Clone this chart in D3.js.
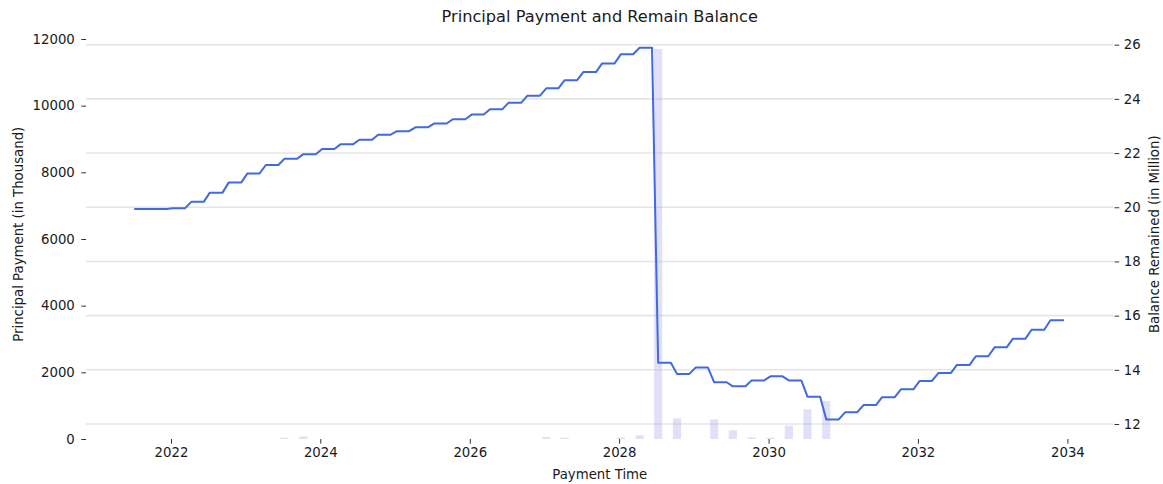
<!DOCTYPE html>
<html>
<head>
<meta charset="utf-8">
<script src="https://cdn.jsdelivr.net/npm/d3@7"></script>
<style>
  html, body { margin: 0; padding: 0; background: #fff; }
  svg { display: block; font-family: "DejaVu Sans", sans-serif; }
</style>
</head>
<body>
<svg id="chart" width="1163" height="484"></svg>
<script>
// ---- DATA ----
// Monthly payment dates (line series)
const paymentDates = [
  "2021-07-10","2021-08-10","2021-09-10","2021-10-10","2021-11-10","2021-12-10",
  "2022-01-10","2022-02-10","2022-03-10","2022-04-10","2022-05-10","2022-06-10","2022-07-10","2022-08-10","2022-09-10","2022-10-10","2022-11-10","2022-12-10",
  "2023-01-10","2023-02-10","2023-03-10","2023-04-10","2023-05-10","2023-06-10","2023-07-10","2023-08-10","2023-09-10","2023-10-10","2023-11-10","2023-12-10",
  "2024-01-10","2024-02-10","2024-03-10","2024-04-10","2024-05-10","2024-06-10","2024-07-10","2024-08-10","2024-09-10","2024-10-10","2024-11-10","2024-12-10",
  "2025-01-10","2025-02-10","2025-03-10","2025-04-10","2025-05-10","2025-06-10","2025-07-10","2025-08-10","2025-09-10","2025-10-10","2025-11-10","2025-12-10",
  "2026-01-10","2026-02-10","2026-03-10","2026-04-10","2026-05-10","2026-06-10","2026-07-10","2026-08-10","2026-09-10","2026-10-10","2026-11-10","2026-12-10",
  "2027-01-10","2027-02-10","2027-03-10","2027-04-10","2027-05-10","2027-06-10","2027-07-10","2027-08-10","2027-09-10","2027-10-10","2027-11-10","2027-12-10",
  "2028-01-10","2028-02-10","2028-03-10","2028-04-10","2028-05-10","2028-06-10","2028-07-10","2028-08-10","2028-09-10","2028-10-10","2028-11-10","2028-12-10",
  "2029-01-10","2029-02-10","2029-03-10","2029-04-10","2029-05-10","2029-06-10","2029-07-10","2029-08-10","2029-09-10","2029-10-10","2029-11-10","2029-12-10",
  "2030-01-10","2030-02-10","2030-03-10","2030-04-10","2030-05-10","2030-06-10","2030-07-10","2030-08-10","2030-09-10","2030-10-10","2030-11-10","2030-12-10",
  "2031-01-10","2031-02-10","2031-03-10","2031-04-10","2031-05-10","2031-06-10","2031-07-10","2031-08-10","2031-09-10","2031-10-10","2031-11-10","2031-12-10",
  "2032-01-10","2032-02-10","2032-03-10","2032-04-10","2032-05-10","2032-06-10","2032-07-10","2032-08-10","2032-09-10","2032-10-10","2032-11-10","2032-12-10",
  "2033-01-10","2033-02-10","2033-03-10","2033-04-10","2033-05-10","2033-06-10","2033-07-10","2033-08-10","2033-09-10","2033-10-10","2033-11-10","2033-12-10"
];
// Balance remained (in million), one per payment date
const balanceRemained = [
  19.94,19.94,19.94,19.94,19.94,19.94,
  19.96,19.96,19.96,20.20,20.20,20.20,20.54,20.54,20.54,20.91,20.91,20.91,
  21.25,21.25,21.25,21.56,21.56,21.56,21.79,21.79,21.79,21.96,21.96,21.96,
  22.15,22.15,22.15,22.33,22.33,22.33,22.49,22.49,22.49,22.68,22.68,22.68,
  22.81,22.81,22.81,22.95,22.95,22.95,23.09,23.09,23.09,23.25,23.25,23.25,
  23.42,23.42,23.42,23.62,23.62,23.62,23.86,23.86,23.86,24.12,24.12,24.12,
  24.39,24.39,24.39,24.69,24.69,24.69,24.99,24.99,24.99,25.31,25.31,25.31,
  25.65,25.65,25.65,25.89,25.89,25.89,14.26,14.26,14.26,13.85,13.85,13.85,
  14.09,14.09,14.09,13.54,13.54,13.54,13.39,13.39,13.39,13.61,13.61,13.61,
  13.76,13.76,13.76,13.61,13.61,13.61,13.01,13.01,13.01,12.17,12.17,12.17,
  12.43,12.43,12.43,12.70,12.70,12.70,12.99,12.99,12.99,13.28,13.28,13.28,
  13.59,13.59,13.59,13.88,13.88,13.88,14.18,14.18,14.18,14.50,14.50,14.50,
  14.83,14.83,14.83,15.15,15.15,15.15,15.48,15.48,15.48,15.83,15.83,15.83
];
// Principal payments (in thousand), quarterly dates with non-zero payments
const principalDates = [
  "2023-07-10","2023-10-10","2027-01-10","2027-04-10","2028-01-10","2028-04-10",
  "2028-07-10","2028-10-10","2029-04-10","2029-07-10","2029-10-10","2030-01-10",
  "2030-04-10","2030-07-10","2030-10-10"
];
const principalPayment = [
  40, 70, 60, 40, 50, 110,
  11700, 620, 590, 260, 50, 40,
  400, 890, 1140
];
const leftTicks = [0, 2000, 4000, 6000, 8000, 10000, 12000];
const rightTicks = [12, 14, 16, 18, 20, 22, 24, 26];
const xTickYears = ["2022", "2024", "2026", "2028", "2030", "2032", "2034"];

// ---- LAYOUT ----
const plot = { left: 86, right: 1113.5, top: 29.5, bottom: 439 };
const parse = d3.timeParse("%Y-%m-%d");
const parseYear = d3.timeParse("%Y");

const svg = d3.select("#chart");

const x = d3.scaleTime()
  .domain([parseYear("2022"), parseYear("2034")])
  .range([171, 1067.4]);
const yL = d3.scaleLinear().domain([0, 12000]).range([439, 39]);
const yR = d3.scaleLinear().domain([12, 26]).range([424, 44.7]);

const textColor = "#1a1a1a";
const fontSize = 13.3;

// ---- BARS (principal payment, left axis) ----
const halfWidthDays = 20;
const bars = principalDates.map((d, i) => ({ date: parse(d), value: principalPayment[i] }));
svg.append("g").selectAll("rect").data(bars).join("rect")
  .attr("x", d => x(d3.timeDay.offset(d.date, -halfWidthDays)))
  .attr("width", d => x(d3.timeDay.offset(d.date, halfWidthDays)) - x(d3.timeDay.offset(d.date, -halfWidthDays)))
  .attr("y", d => yL(d.value))
  .attr("height", d => yL(0) - yL(d.value))
  .attr("fill", "#6464dc")
  .attr("fill-opacity", 0.2);

// ---- GRID (from right axis) ----
svg.append("g").selectAll("line").data(rightTicks).join("line")
  .attr("x1", plot.left).attr("x2", plot.right)
  .attr("y1", d => yR(d)).attr("y2", d => yR(d))
  .attr("stroke", "#b4b4b4")
  .attr("stroke-opacity", 0.35)
  .attr("stroke-width", 1.6);

// ---- LINE (balance, right axis) ----
const pts = paymentDates.map((d, i) => ({ date: parse(d), value: balanceRemained[i] }));
svg.append("path")
  .datum(pts)
  .attr("fill", "none")
  .attr("stroke", "#4169e1")
  .attr("stroke-width", 2)
  .attr("stroke-linejoin", "round")
  .attr("stroke-linecap", "square")
  .attr("d", d3.line().x(d => x(d.date)).y(d => yR(d.value)));

// ---- AXES ----
function styleAxis(g) {
  g.select(".domain").remove();
  g.selectAll(".tick line").attr("stroke", "#333").attr("stroke-width", 1);
  g.selectAll(".tick text").attr("fill", textColor)
    .style("font-family", '"DejaVu Sans", sans-serif')
    .style("font-size", fontSize + "px");
}

svg.append("g")
  .attr("transform", `translate(${plot.left},0)`)
  .call(d3.axisLeft(yL).tickValues(leftTicks).tickFormat(d3.format("d")).tickSize(4.7).tickPadding(6.5))
  .call(styleAxis);

svg.append("g")
  .attr("transform", `translate(${plot.right + 1},0)`)
  .call(d3.axisRight(yR).tickValues(rightTicks).tickFormat(d3.format("d")).tickSize(4.7).tickPadding(4.5))
  .call(styleAxis);

svg.append("g")
  .attr("transform", `translate(0,${plot.bottom})`)
  .call(d3.axisBottom(x).tickValues(xTickYears.map(parseYear)).tickFormat(d3.timeFormat("%Y")).tickSize(4.7).tickPadding(4))
  .call(styleAxis);

// ---- LABELS ----
svg.append("text")
  .attr("x", (plot.left + plot.right) / 2)
  .attr("y", 21.5)
  .attr("text-anchor", "middle")
  .attr("fill", textColor)
  .style("font-size", "16.2px")
  .text("Principal Payment and Remain Balance");

svg.append("text")
  .attr("x", (plot.left + plot.right) / 2)
  .attr("y", 478.5)
  .attr("text-anchor", "middle")
  .attr("fill", textColor)
  .style("font-size", fontSize + "px")
  .text("Payment Time");

svg.append("text")
  .attr("transform", `translate(22.5,${(plot.top + plot.bottom) / 2}) rotate(-90)`)
  .attr("text-anchor", "middle")
  .attr("fill", textColor)
  .style("font-size", fontSize + "px")
  .text("Principal Payment (in Thousand)");

svg.append("text")
  .attr("transform", `translate(1159,${(plot.top + plot.bottom) / 2}) rotate(-90)`)
  .attr("text-anchor", "middle")
  .attr("fill", textColor)
  .style("font-size", fontSize + "px")
  .text("Balance Remained (in Million)");
</script>
</body>
</html>
